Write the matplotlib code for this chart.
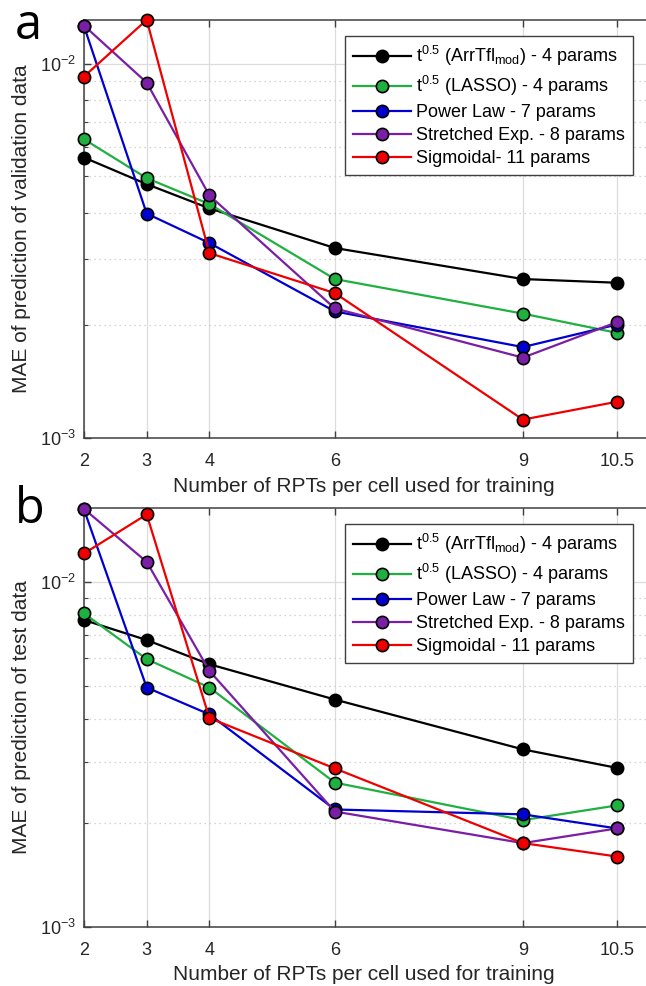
import matplotlib
matplotlib.use("Agg")
import matplotlib.pyplot as plt
from matplotlib.ticker import FixedLocator, LogLocator, FuncFormatter, NullFormatter
import numpy as np

plt.rcParams['font.family'] = ['Liberation Sans', 'DejaVu Sans']
plt.rcParams['mathtext.default'] = 'regular'

# ---------------- data ----------------
rpts = [2, 3, 4, 6, 9, 10.5]
xtick_labels = ['2', '3', '4', '6', '9', '10.5']

series_names_a = [r't$^{0.5}$ (ArrTfl$_{mod}$) - 4 params',
                  r't$^{0.5}$ (LASSO) - 4 params',
                  'Power Law - 7 params',
                  'Stretched Exp. - 8 params',
                  'Sigmoidal- 11 params']
series_names_b = [r't$^{0.5}$ (ArrTfl$_{mod}$) - 4 params',
                  r't$^{0.5}$ (LASSO) - 4 params',
                  'Power Law - 7 params',
                  'Stretched Exp. - 8 params',
                  'Sigmoidal - 11 params']

# panel a: validation MAE
val_arrtfl = [0.00562, 0.00477, 0.00411, 0.00322, 0.00266, 0.00260]
val_lasso = [0.00629, 0.00495, 0.00422, 0.00266, 0.00215, 0.00191]
val_power = [0.01262, 0.00398, 0.00332, 0.00218, 0.00175, 0.00201]
val_stretched = [0.01266, 0.00891, 0.00445, 0.00222, 0.00164, 0.00204]
val_sigmoid = [0.00925, 0.01311, 0.00312, 0.00244, 0.00112, 0.00125]

# panel b: test MAE
test_arrtfl = [0.00775, 0.00678, 0.00577, 0.00456, 0.00327, 0.00289]
test_lasso = [0.00810, 0.00597, 0.00494, 0.00262, 0.00204, 0.00225]
test_power = [0.01620, 0.00494, 0.00413, 0.00219, 0.00212, 0.00193]
test_stretched = [0.01626, 0.01142, 0.00552, 0.00216, 0.00175, 0.00193]
test_sigmoid = [0.01208, 0.01567, 0.00403, 0.00288, 0.00175, 0.00160]

line_colors = ['#000000', '#1fb040', '#0000d0', '#7a1ea6', '#ee0000']

W, H = 646, 986
fig = plt.figure(figsize=(W / 100, H / 100), dpi=100)

def fx(px):
    return px / W

def fy(py):
    return 1 - py / H

ax_left = 84
ax_right = 655
x_max = 2 + (ax_right - ax_left) / 62.7

def make_panel(top, bottom, ymax, data, names, letter, letter_base, ylabel, xlabel_y, leg_top):
    ax = fig.add_axes([fx(ax_left), fy(bottom), fx(ax_right - ax_left), (bottom - top) / H])
    for vals, name, c in zip(data, names, line_colors):
        ax.plot(rpts, vals, '-o', color=c, lw=1.6, markersize=8.8,
                markerfacecolor=c, markeredgecolor='black', markeredgewidth=1.2,
                label=name, clip_on=False, zorder=3)
    ax.set_yscale('log')
    ax.set_ylim(1e-3, ymax)
    ax.set_xlim(2, x_max)
    ax.xaxis.set_major_locator(FixedLocator(rpts))
    ax.set_xticklabels(xtick_labels)
    ax.yaxis.set_major_locator(LogLocator(base=10, numticks=10))
    ax.yaxis.set_minor_locator(LogLocator(base=10, subs=np.arange(2, 10), numticks=20))
    ax.yaxis.set_major_formatter(FuncFormatter(lambda v, p: r'$10^{%d}$' % int(round(np.log10(v)))))
    ax.yaxis.set_minor_formatter(NullFormatter())
    ax.tick_params(axis='both', which='both', direction='in', top=True, right=True,
                   colors='#404040', labelcolor='#262626', labelsize=13)
    ax.tick_params(axis='both', which='major', length=5, width=1.0)
    ax.tick_params(axis='y', which='minor', length=3, width=0.8)
    ax.tick_params(axis='x', pad=10.5)
    ax.tick_params(axis='y', pad=5.5)
    for s in ax.spines.values():
        s.set_color('#404040')
        s.set_linewidth(1.1)
    ax.grid(True, which='major', axis='both', color='#dcdcdc', lw=0.9, ls='-')
    ax.grid(True, which='minor', axis='y', color='#c8c8c8', lw=0.9, ls=(0, (1, 3)))
    ax.set_axisbelow(True)
    leg = ax.legend(loc='upper right', bbox_to_anchor=(fx(633), fy(leg_top)),
                    bbox_transform=fig.transFigure, borderaxespad=0,
                    fontsize=13, frameon=True, fancybox=False, framealpha=1,
                    edgecolor='#404040', handlelength=3.2, handletextpad=0.3,
                    labelspacing=0.33, borderpad=0.45)
    leg.get_frame().set_linewidth(1.0)
    fig.text(fx(15), fy(letter_base), letter, fontsize=35, family=['Open Sans', 'DejaVu Sans'],
             ha='left', va='baseline', color='black')
    fig.text(fx(22), fy((top + bottom) / 2), ylabel, rotation=90, ha='center', va='center',
             fontsize=15, color='#262626')
    fig.text(fx(364), fy(xlabel_y), 'Number of RPTs per cell used for training',
             ha='center', va='center', fontsize=15, color='#262626')
    return ax

make_panel(20, 438, 1.31e-2,
           [val_arrtfl, val_lasso, val_power, val_stretched, val_sigmoid],
           series_names_a, 'a', 39, 'MAE of prediction of validation data', 487, 36)
make_panel(508, 927, 1.636e-2,
           [test_arrtfl, test_lasso, test_power, test_stretched, test_sigmoid],
           series_names_b, 'b', 523, 'MAE of prediction of test data', 975, 524)

fig.savefig('out.png', dpi=100)
